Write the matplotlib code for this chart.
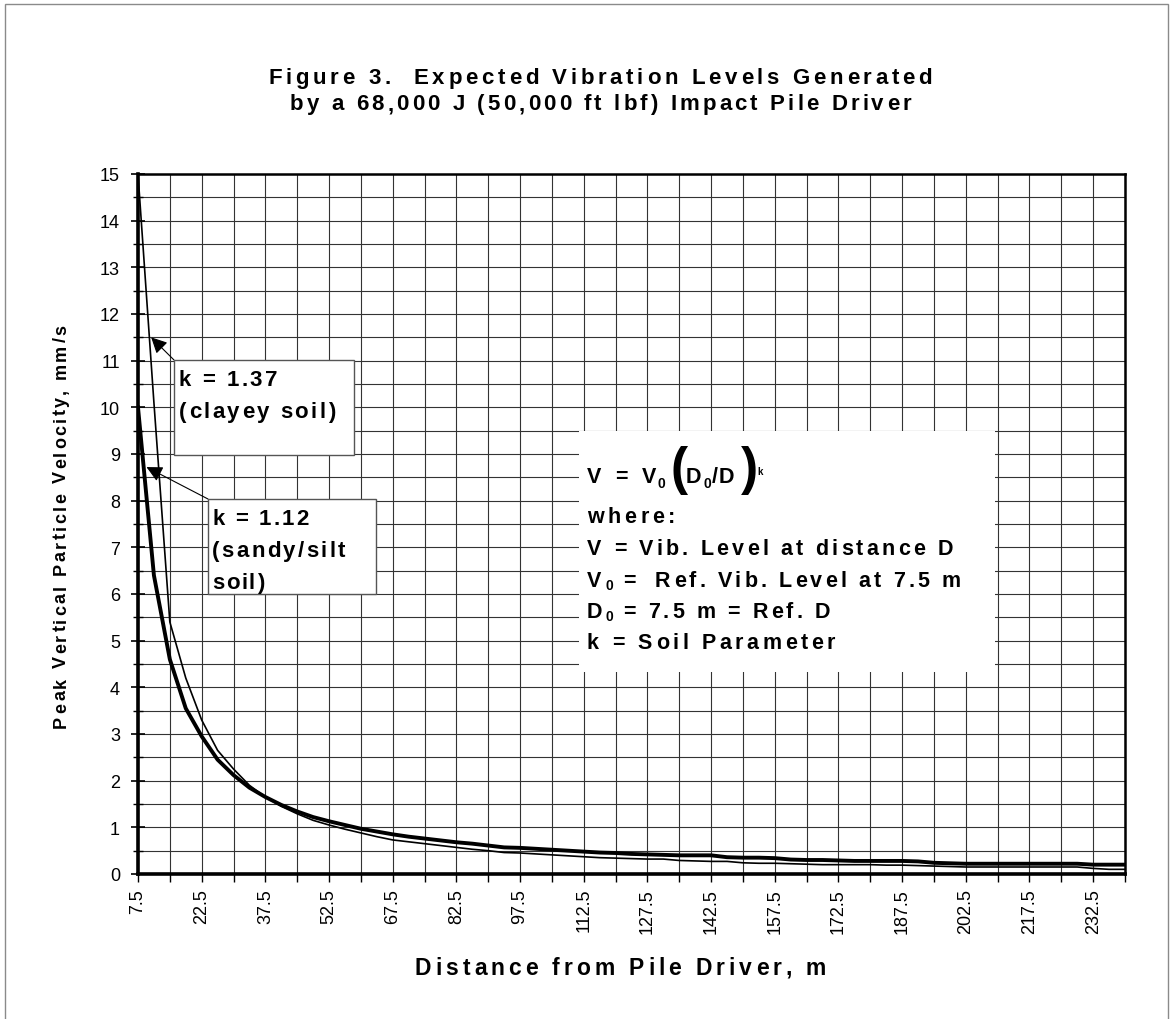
import matplotlib
matplotlib.use("Agg")
import matplotlib.pyplot as plt
from matplotlib.patches import Rectangle
from matplotlib.ticker import FixedLocator, MultipleLocator
from matplotlib.font_manager import FontProperties, findfont, get_font

# ---------------- data ----------------
distance_m = [7.5, 11.25, 15, 18.75, 22.5, 26.25, 30, 33.75, 37.5, 41.25, 45, 48.75,
              52.5, 56.25, 60, 63.75, 67.5, 71.25, 75, 78.75, 82.5, 86.25, 90, 93.75,
              97.5, 101.25, 105, 108.75, 112.5, 116.25, 120, 123.75, 127.5, 131.25,
              135, 138.75, 142.5, 146.25, 150, 153.75, 157.5, 161.25, 165, 168.75,
              172.5, 176.25, 180, 183.75, 187.5, 191.25, 195, 198.75, 202.5, 206.25,
              210, 213.75, 217.5, 221.25, 225, 228.75, 232.5, 236.25, 240]

# k = 1.12 (sandy/silt soil) - thick line
v_sandy = [10.0, 6.4, 4.6, 3.55, 2.95, 2.45, 2.12, 1.85, 1.65, 1.48, 1.34, 1.22,
           1.13, 1.05, 0.97, 0.91, 0.85, 0.80, 0.76, 0.72, 0.68, 0.65, 0.61, 0.57,
           0.56, 0.54, 0.52, 0.50, 0.48, 0.46, 0.45, 0.43, 0.42, 0.41,
           0.40, 0.40, 0.40, 0.36, 0.35, 0.35, 0.34, 0.31, 0.30, 0.30,
           0.29, 0.28, 0.28, 0.28, 0.28, 0.27, 0.24, 0.23, 0.22, 0.22,
           0.22, 0.22, 0.22, 0.22, 0.22, 0.22, 0.20, 0.20, 0.20]

# k = 1.37 (clayey soil) - thin line
v_clayey = [15.0, 10.1, 5.4, 4.2, 3.3, 2.65, 2.25, 1.9, 1.65, 1.45, 1.29, 1.15,
            1.05, 0.96, 0.88, 0.80, 0.73, 0.69, 0.65, 0.61, 0.57, 0.53, 0.50, 0.46,
            0.45, 0.43, 0.41, 0.39, 0.37, 0.35, 0.34, 0.33, 0.32, 0.32,
            0.29, 0.28, 0.27, 0.27, 0.24, 0.23, 0.23, 0.22, 0.21, 0.20,
            0.20, 0.20, 0.20, 0.19, 0.19, 0.18, 0.17, 0.16, 0.15, 0.15,
            0.15, 0.15, 0.15, 0.15, 0.15, 0.15, 0.12, 0.10, 0.10]

x_ticks = [7.5, 15, 22.5, 30, 37.5, 45, 52.5, 60, 67.5, 75, 82.5, 90, 97.5, 105,
           112.5, 120, 127.5, 135, 142.5, 150, 157.5, 165, 172.5, 180, 187.5, 195,
           202.5, 210, 217.5, 225, 232.5, 240]
x_tick_labels = ["7.5", "", "22.5", "", "37.5", "", "52.5", "", "67.5", "", "82.5", "",
                 "97.5", "", "112.5", "", "127.5", "", "142.5", "", "157.5", "",
                 "172.5", "", "187.5", "", "202.5", "", "217.5", "", "232.5", ""]
y_ticks = list(range(0, 16))

title_lines = ["Figure 3.  Expected Vibration Levels Generated",
               "by a 68,000 J (50,000 ft lbf) Impact Pile Driver"]
x_label = "Distance from Pile Driver, m"
y_label = "Peak Vertical Particle Velocity, mm/s"
label_clay = ["k = 1.37", "(clayey soil)"]
label_sand = ["k = 1.12", "(sandy/silt", "soil)"]

# ---------------- style ----------------
FAM = ["Liberation Sans", "DejaVu Sans"]
plt.rcParams["font.family"] = FAM
W, H, DPI = 1174, 1020, 100
BOLD_PATH = findfont(FontProperties(family="Liberation Sans", weight="bold"))


def fx(x):
    return x / W


def fy(y):
    return 1 - y / H


fig = plt.figure(figsize=(W / DPI, H / DPI), dpi=DPI)
fig.patch.set_facecolor("white")


def advance(ch, size):
    font = get_font(BOLD_PATH)
    font.set_size(size, DPI)
    g = font.load_char(ord(ch))
    return g.linearHoriAdvance / 65536.0


def tracked(segs, x, yb, target=None, track=0.0, ha="left", rot=0):
    """Draw bold text char by char with letter spacing (pixel coords, y from top)."""
    items = []
    for text, size, dy in segs:
        for ch in text:
            items.append((ch, size, dy, advance(ch, size)))
    n = len(items)
    adv_sum = sum(it[3] for it in items)
    if target is not None and n > 1:
        track = (target - adv_sum) / (n - 1)
    total = adv_sum + track * (n - 1)
    if rot == 0:
        start = x - total / 2 if ha == "center" else x
    else:
        start = x + total / 2 if ha == "center" else x
    cum = 0.0
    for ch, size, dy, a in items:
        if ch != " ":
            if rot == 0:
                fig.text(fx(start + cum), fy(yb + dy), ch, fontsize=size,
                         fontweight="bold", ha="left", va="baseline", zorder=7)
            else:
                fig.text(fx(yb + dy), fy(start - cum), ch, fontsize=size,
                         fontweight="bold", ha="left", va="baseline", rotation=90,
                         rotation_mode="anchor", zorder=7)
        cum += a + track


L, R, T, B = 138, 1125, 175, 875
ax = fig.add_axes([fx(L), fy(B), (R - L) / W, (B - T) / H])

ax.plot(distance_m, v_clayey, color="black", lw=1.2, zorder=3, solid_joinstyle="round")
ax.plot(distance_m, v_sandy, color="black", lw=2.8, zorder=3, solid_joinstyle="round")

ax.set_xlim(7.5, 240)
ax.set_ylim(0, 15)
ax.xaxis.set_major_locator(FixedLocator(x_ticks))
ax.set_xticklabels(x_tick_labels, rotation=90, fontsize=13)
ax.yaxis.set_major_locator(FixedLocator(y_ticks))
ax.yaxis.set_minor_locator(MultipleLocator(0.5))
ax.set_yticklabels([str(v) for v in y_ticks], fontsize=13)
ax.tick_params(axis="x", which="major", direction="out", length=6, width=1, pad=4)
ax.tick_params(axis="y", which="major", direction="inout", length=10, width=1.2, pad=8)
ax.tick_params(axis="y", which="minor", direction="inout", length=7, width=1)
ax.grid(which="major", axis="x", color="#333333", lw=0.8)
ax.grid(which="both", axis="y", color="#333333", lw=0.8)
ax.set_axisbelow(True)
for side in ["top", "right"]:
    ax.spines[side].set_linewidth(1.8)
for side in ["left", "bottom"]:
    ax.spines[side].set_linewidth(2.6)
ax.spines["left"].set_zorder(5)
ax.spines["bottom"].set_zorder(5)

# titles / axis labels
tracked([(title_lines[0], 16, 0)], 600, 84, target=664, ha="center")
tracked([(title_lines[1], 16, 0)], 600.5, 110, target=621, ha="center")
tracked([(x_label, 16.5, 0)], 620.5, 975, target=411, ha="center")
tracked([(y_label, 13, 0)], 526, 66, target=403, ha="center", rot=90)

# outer frame
fig.add_artist(Rectangle((fx(5), -0.05), fx(1168) - fx(5), fy(5) + 0.05,
                         transform=fig.transFigure, fill=False, edgecolor="#8a8a8a",
                         lw=1.0))


# annotation boxes
def box(x0, y0, x1, y1, edge=True):
    r = Rectangle((fx(x0), fy(y1)), fx(x1) - fx(x0), fy(y0) - fy(y1),
                  transform=fig.transFigure, facecolor="white",
                  edgecolor="#555555" if edge else "none", lw=1.0, zorder=4)
    fig.add_artist(r)


box(174, 361, 354, 456)
box(208, 500, 376, 595)
box(579, 432, 995, 673, edge=False)

arrow_kw = dict(arrowstyle="-|>", color="black", lw=0.8, mutation_scale=24,
                shrinkA=0, shrinkB=0)
ax.annotate("", xy=(10.6, 11.5), xycoords="data",
            xytext=(174, H - 361), textcoords="figure pixels", arrowprops=arrow_kw,
            zorder=6)
ax.annotate("", xy=(9.5, 8.72), xycoords="data",
            xytext=(208, H - 500), textcoords="figure pixels", arrowprops=arrow_kw,
            zorder=6)

BS = 16
tracked([(label_clay[0], BS, 0)], 179, 386, target=98)
tracked([(label_clay[1], BS, 0)], 179, 418, target=156)
tracked([(label_sand[0], BS, 0)], 212, 525, target=97)
tracked([(label_sand[1], BS, 0)], 212, 557, target=133)
tracked([(label_sand[2], BS, 0)], 212, 589, track=1.6)

# formula box
FS = 15.5
tracked([("V = V", FS, 0)], 587, 483.5, target=69)
tracked([("0", 10, 5)], 657, 483.5)
tracked([("(", 37, 1)], 671, 483.5)
tracked([("D", FS, 0)], 686, 483.5)
tracked([("0", 10, 5)], 703.5, 483.5)
tracked([("/D", FS, 0)], 712, 483.5, target=22)
tracked([(")", 37, 1)], 741, 483.5)
tracked([("k", 7, -8.5)], 757.5, 483.5)

tracked([("where:", FS, 0)], 587, 523, target=88)
tracked([("V = Vib. Level at distance D", FS, 0)], 587, 555, target=366)
tracked([("V", FS, 0)], 587, 587)
tracked([("0", 10, 3.5)], 605, 587)
tracked([("=", FS, 0)], 623, 587)
tracked([("Ref. Vib. Level at 7.5 m", FS, 0)], 655, 587, target=306)
tracked([("D", FS, 0)], 587, 618)
tracked([("0", 10, 3.5)], 605, 618)
tracked([("= 7.5 m = Ref. D", FS, 0)], 623, 618, target=207)
tracked([("k = Soil Parameter", FS, 0)], 587, 649.5, target=248)

fig.savefig("out.png", dpi=DPI, facecolor="white")
